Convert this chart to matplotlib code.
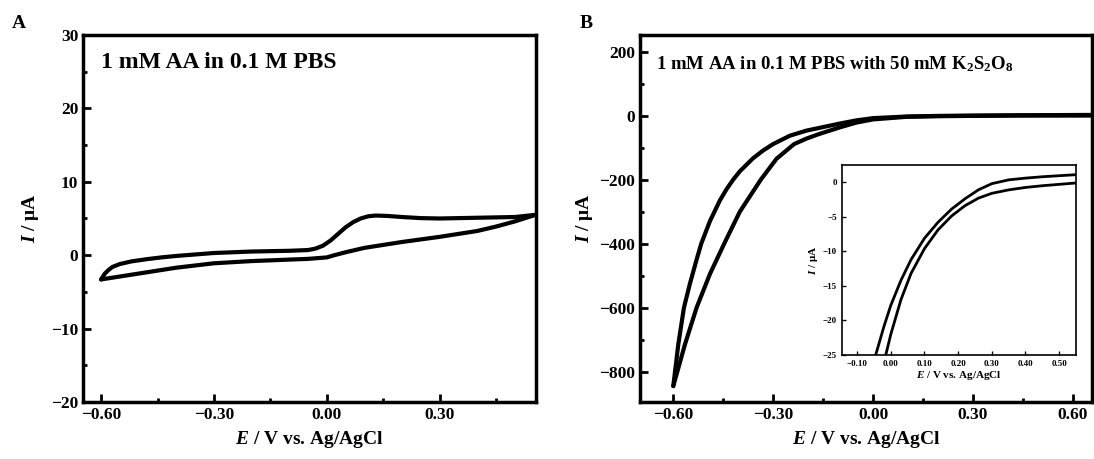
import matplotlib

matplotlib.use("Agg")
import matplotlib.pyplot as plt
from matplotlib.ticker import MultipleLocator, FuncFormatter

plt.rcParams["font.family"] = ["Liberation Serif", "DejaVu Serif"]
plt.rcParams["font.weight"] = "bold"
plt.rcParams["mathtext.fontset"] = "custom"
plt.rcParams["mathtext.rm"] = "Liberation Serif:bold"
plt.rcParams["mathtext.it"] = "Liberation Serif:bold:italic"
plt.rcParams["mathtext.bf"] = "Liberation Serif:bold"

# Panel A: 1 mM AA in PBS (forward + reverse scan)
a_fwd_E = [-0.60, -0.595, -0.59, -0.58, -0.57, -0.55, -0.52, -0.48, -0.44, -0.40,
           -0.30, -0.20, -0.10, -0.05, -0.03, -0.01, 0.01, 0.03, 0.05, 0.07,
           0.09, 0.11, 0.13, 0.16, 0.20, 0.25, 0.30, 0.40, 0.50, 0.555]
a_fwd_I = [-3.3, -2.9, -2.5, -2.0, -1.6, -1.2, -0.85, -0.55, -0.3, -0.1,
           0.3, 0.5, 0.6, 0.7, 0.9, 1.3, 2.0, 2.9, 3.8, 4.5,
           5.0, 5.3, 5.4, 5.35, 5.2, 5.05, 5.0, 5.1, 5.2, 5.5]
a_rev_E = [0.555, 0.50, 0.45, 0.40, 0.30, 0.20, 0.15, 0.10, 0.05, 0.02,
           0.0, -0.05, -0.10, -0.20, -0.30, -0.40, -0.45, -0.50, -0.55, -0.60]
a_rev_I = [5.5, 4.6, 3.9, 3.3, 2.5, 1.8, 1.4, 1.0, 0.4, 0.0,
           -0.3, -0.5, -0.6, -0.8, -1.1, -1.7, -2.1, -2.5, -2.9, -3.3]

# Panel B: with 50 mM K2S2O8
b_fwd_E = [-0.60, -0.585, -0.568, -0.55, -0.53, -0.516, -0.49, -0.46, -0.44,
           -0.42, -0.40, -0.36, -0.33, -0.30, -0.25, -0.20, -0.15, -0.10,
           -0.05, 0.0, 0.10, 0.20, 0.30, 0.45, 0.66]
b_fwd_I = [-845, -715, -600, -525, -450, -400, -330, -265, -230,
           -200, -174, -133, -109, -89, -63, -47, -36, -25,
           -15, -8, -3, -1, 0, 1, 2]
b_rev_E = [-0.60, -0.565, -0.53, -0.49, -0.447, -0.40, -0.337, -0.29, -0.237,
           -0.20, -0.163, -0.13, -0.10, -0.05, 0.0, 0.10, 0.20, 0.30, 0.45, 0.66]
b_rev_I = [-845, -715, -600, -495, -400, -300, -200, -135, -89,
           -72, -58, -47, -37, -22, -12, -4, -2, -1, 0, 0]

# Inset (zoom of panel B)
in_up_E = [-0.045, -0.02, 0.0, 0.03, 0.06, 0.10, 0.14, 0.18, 0.22, 0.26,
           0.30, 0.35, 0.40, 0.45, 0.50, 0.55]
in_up_I = [-25.0, -20.8, -17.8, -14.2, -11.2, -8.1, -5.8, -3.9, -2.4, -1.1,
           -0.2, 0.35, 0.6, 0.8, 0.95, 1.1]
in_lo_E = [-0.015, 0.0, 0.03, 0.06, 0.10, 0.14, 0.18, 0.22, 0.26, 0.30,
           0.35, 0.40, 0.45, 0.50, 0.55]
in_lo_I = [-25.0, -22.0, -17.0, -13.2, -9.6, -6.9, -4.9, -3.4, -2.3, -1.6,
           -1.1, -0.75, -0.5, -0.3, -0.1]

minus = FuncFormatter(lambda v, p: f"{v:.2f}".replace("-", "\u2212"))
minus_int = FuncFormatter(lambda v, p: f"{v:.0f}".replace("-", "\u2212"))

fig = plt.figure(figsize=(10.94, 4.59), dpi=100)
ax1 = fig.add_axes([0.0759, 0.124, 0.414, 0.80])
ax2 = fig.add_axes([0.585, 0.124, 0.413, 0.80])


def style(ax, lw=2.5, size=12.5, major=6, minor=3):
    for s in ax.spines.values():
        s.set_linewidth(lw)
    ax.tick_params(which="both", direction="in", top=False, right=False,
                   width=lw * 0.8, labelsize=size)
    ax.tick_params(which="major", length=major)
    ax.tick_params(which="minor", length=minor)
    for t in ax.get_xticklabels() + ax.get_yticklabels():
        t.set_fontweight("bold")


ax1.plot(a_fwd_E, a_fwd_I, color="black", lw=3, solid_capstyle="round",
         solid_joinstyle="round")
ax1.plot(a_rev_E, a_rev_I, color="black", lw=3, solid_capstyle="round",
         solid_joinstyle="round")
ax1.set_xlim(-0.648, 0.556)
ax1.set_ylim(-20, 30)
ax1.xaxis.set_major_locator(MultipleLocator(0.3))
ax1.xaxis.set_minor_locator(MultipleLocator(0.15))
ax1.yaxis.set_major_locator(MultipleLocator(10))
ax1.yaxis.set_minor_locator(MultipleLocator(5))
ax1.xaxis.set_major_formatter(minus)
ax1.yaxis.set_major_formatter(minus_int)
ax1.set_xlabel("$E$ / V vs. Ag/AgCl", fontsize=14, fontweight="bold")
ax1.set_ylabel("$I$ / μA", fontsize=14, fontweight="bold", labelpad=7)
ax1.text(0.04, 0.924, "1 mM AA in 0.1 M PBS", transform=ax1.transAxes,
         fontsize=17, fontweight="bold", va="center")
style(ax1)

ax2.plot(b_fwd_E, b_fwd_I, color="black", lw=3, solid_capstyle="round",
         solid_joinstyle="round")
ax2.plot(b_rev_E, b_rev_I, color="black", lw=3, solid_capstyle="round",
         solid_joinstyle="round")
ax2.set_xlim(-0.70, 0.657)
ax2.set_ylim(-895, 252)
ax2.xaxis.set_major_locator(MultipleLocator(0.3))
ax2.xaxis.set_minor_locator(MultipleLocator(0.15))
ax2.yaxis.set_major_locator(MultipleLocator(200))
ax2.yaxis.set_minor_locator(MultipleLocator(100))
ax2.xaxis.set_major_formatter(minus)
ax2.yaxis.set_major_formatter(minus_int)
ax2.set_xlabel("$E$ / V vs. Ag/AgCl", fontsize=14, fontweight="bold")
ax2.set_ylabel("$I$ / μA", fontsize=14, fontweight="bold", labelpad=3)
ax2.text(0.035, 0.92, r"1 mM AA in 0.1 M PBS with 50 mM K$_2$S$_2$O$_8$",
         transform=ax2.transAxes, fontsize=13.5, fontweight="bold", va="center")
style(ax2)

fig.text(0.011, 0.94, "A", fontsize=14, fontweight="bold")
fig.text(0.530, 0.94, "B", fontsize=14, fontweight="bold")

# inset
axi = fig.add_axes([842 / 1094, 1 - 355 / 459, 234 / 1094, 190 / 459])
axi.plot(in_up_E, in_up_I, color="black", lw=2)
axi.plot(in_lo_E, in_lo_I, color="black", lw=2)
axi.set_xlim(-0.145, 0.55)
axi.set_ylim(-25, 2.5)
axi.xaxis.set_major_locator(MultipleLocator(0.1))
axi.yaxis.set_major_locator(MultipleLocator(5))
axi.xaxis.set_major_formatter(minus)
axi.yaxis.set_major_formatter(minus_int)
axi.set_xlabel("$E$ / V vs. Ag/AgCl", fontsize=8, fontweight="bold", labelpad=1)
axi.set_ylabel("$I$ / μA", fontsize=8, fontweight="bold", labelpad=2)
style(axi, lw=1.2, size=6.5, major=3, minor=1.5)

fig.savefig("out.png", dpi=100)
